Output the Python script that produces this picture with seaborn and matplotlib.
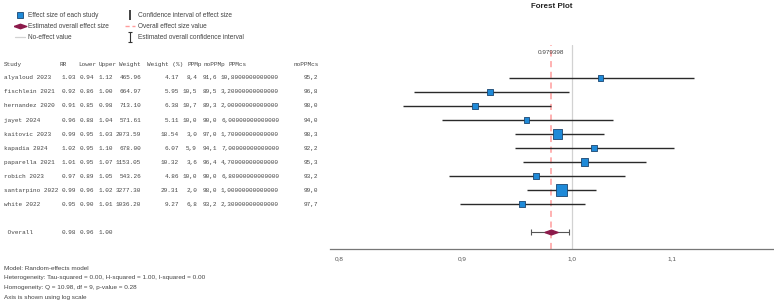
import numpy as np
import pandas as pd
import seaborn as sns
import matplotlib.pyplot as plt
from matplotlib.lines import Line2D
from matplotlib.path import Path
from matplotlib.ticker import FixedLocator, FuncFormatter, NullLocator
import matplotlib.transforms as mtransforms

# ---- data ----
studies = ["alyaloud 2023", "fischlein 2021", "hernandez 2020", "jayet 2024", "kaitovic 2023",
           "kapadia 2024", "paparella 2021", "robich 2023", "santarpino 2022", "white 2022"]
rr = [1.027, 0.924, 0.911, 0.957, 0.986, 1.021, 1.012, 0.966, 0.990, 0.953]
lower = [0.941, 0.859, 0.850, 0.883, 0.947, 0.947, 0.954, 0.889, 0.958, 0.898]
upper = [1.124, 0.997, 0.980, 1.040, 1.031, 1.102, 1.073, 1.052, 1.023, 1.012]
weight = [465.96, 664.97, 713.10, 571.61, 2073.59, 678.00, 1153.05, 543.26, 3277.30, 1036.20]
weight_pct = [4.17, 5.95, 6.38, 5.11, 18.54, 6.07, 10.32, 4.86, 29.31, 9.27]
ppmp = [8.4, 10.5, 10.7, 10.0, 3.0, 5.9, 3.6, 10.0, 2.0, 6.8]
noppmp = [91.6, 89.5, 89.3, 90.0, 97.0, 94.1, 96.4, 90.0, 98.0, 93.2]
ppmcs = [10.8, 3.2, 2.0, 6.0, 1.7, 7.0, 4.7, 6.8, 1.0, 2.3]
noppmcs = [95.2, 96.8, 98.0, 94.0, 98.3, 92.2, 95.3, 93.2, 99.0, 97.7]

overall_rr = 0.979398
overall_lower = 0.961
overall_upper = 0.997

xticks = [0.8, 0.9, 1.0, 1.1]
notes = ["Model: Random-effects model",
         "Heterogeneity: Tau-squared = 0.00, H-squared = 1.00, I-squared = 0.00",
         "Homogeneity: Q = 10.98, df = 9, p-value = 0.28",
         "Axis is shown using log scale"]

df = pd.DataFrame({"study": studies, "rr": rr, "lower": lower, "upper": upper,
                   "weight": weight, "pos": np.arange(len(studies))})
overall_pos = len(studies) + 1

BLUE = "#1f8ad8"
BLUE_EDGE = "#1b4670"
MAROON = "#8c1a4b"
PINK = "#ff9c9c"
GRAY = "#d2d2d2"
TXT = "#444444"

sns.set_style("white")
plt.rcParams["font.family"] = ["Liberation Sans", "DejaVu Sans"]

W, H = 774, 301
fig = plt.figure(figsize=(W / 100, H / 100), dpi=100)


def fx(px):
    return px / W


def fy(py):
    return 1 - py / H


ax = fig.add_axes([fx(330), fy(249), fx(444), (249 - 45) / H])

# reference lines
ax.axvline(1.0, color=GRAY, lw=0.9, zorder=1)
ax.axvline(overall_rr, color=PINK, lw=1.1, ls=(0, (4, 3)), zorder=1)

# study CIs and squares (area proportional to weight)
ax.hlines(df["pos"], df["lower"], df["upper"], color="#2a2a2a", lw=1.0, zorder=2)
sns.scatterplot(data=df, x="rr", y="pos", size="weight", sizes=(14, 64),
                size_norm=(min(weight), max(weight)), marker="s", color=BLUE,
                edgecolor=BLUE_EDGE, linewidth=0.6, legend=False, ax=ax, zorder=3)

# overall estimate
diamond = [(-1, 0), (0, 0.36), (1, 0), (0, -0.36), (-1, 0)]
ax.errorbar([overall_rr], [overall_pos],
            xerr=[[overall_rr - overall_lower], [overall_upper - overall_rr]],
            fmt="none", ecolor="#555555", elinewidth=0.8, capsize=2, capthick=0.8, zorder=2)
ax.plot([overall_rr], [overall_pos], marker=diamond, ms=9.5, color=MAROON,
        mec=MAROON, ls="none", zorder=4)
ax.text(overall_rr, -1.85, f"{overall_rr:.6f}", ha="center", va="center",
        fontsize=4.6, color=TXT)

ax.set_xscale("log")
ax.set_xlim(0.793, 1.213)
ax.set_ylim(12.214, -2.357)
ax.xaxis.set_major_locator(FixedLocator(xticks))
ax.xaxis.set_minor_locator(NullLocator())
ax.xaxis.set_major_formatter(FuncFormatter(lambda v, _: f"{v:.1f}".replace(".", ",")))
ax.xaxis.set_minor_formatter(FuncFormatter(lambda v, _: ""))
ax.tick_params(axis="x", length=0, pad=5.5, labelsize=4.6, labelcolor="#555555")
ax.set_yticks([])
ax.set_xlabel("")
ax.set_ylabel("")
for side in ["top", "right", "left"]:
    ax.spines[side].set_visible(False)
ax.spines["bottom"].set_color("#777777")
ax.spines["bottom"].set_linewidth(0.9)

fig.text(fx(552), fy(6), "Forest Plot", ha="center", va="center",
         fontsize=5.7, fontweight="bold", color="#222222")

# ---- left table ----
trans = mtransforms.blended_transform_factory(fig.transFigure, ax.transData)
mono = dict(family="Liberation Mono", fontsize=4.3, color=TXT, va="center", transform=trans)


def comma(v):
    return f"{v:.1f}".replace(".", ",")


columns = [
    ("Study", 4, 4, "left", studies),
    ("RR", 60, 62, "left", [f"{v:.2f}" for v in rr]),
    ("Lower", 78, 80, "left", [f"{v:.2f}" for v in lower]),
    ("Upper", 99, 99, "left", [f"{v:.2f}" for v in upper]),
    ("Weight", 119, 141, "right", [f"{v:.2f}" for v in weight]),
    ("Weight (%)", 147, 179, "right", [f"{v:.2f}" for v in weight_pct]),
    ("PPMp", 187, 197, "right", [comma(v) for v in ppmp]),
    ("noPPMp", 204, 203, "left", [comma(v) for v in noppmp]),
    ("PPMcs", 228, 221, "left", [f"{v:#.15g}".replace(".", ",") for v in ppmcs]),
    ("noPPMcs", 294, 304, "left", [comma(v) for v in noppmcs]),
]
header_pos = -0.93
for header, hx, dx, ha, vals in columns:
    fig.text(fx(hx), header_pos, header, ha="left", **mono)
    for i, s in enumerate(vals):
        fig.text(fx(dx), i, s, ha=ha, **mono)

overall_vals = [(" Overall", 4), (f"{0.98:.2f}", 62), (f"{overall_lower:.2f}", 80),
                (f"{overall_upper:.2f}", 99)]
for s, x in overall_vals:
    fig.text(fx(x), overall_pos, s, ha="left", **mono)

# ---- notes ----
for i, line in enumerate(notes):
    fig.text(fx(4), fy(268 + 10 * i), line, ha="left", va="center", fontsize=4.6, color=TXT)

# ---- legend ----
ci_marker = Path([(-0.35, 1), (0.35, 1), (0, 1), (0, -1), (-0.35, -1), (0.35, -1)],
                 [Path.MOVETO, Path.LINETO, Path.MOVETO, Path.LINETO, Path.MOVETO, Path.LINETO])
handles = [
    Line2D([], [], marker="s", ls="none", ms=4.5, mfc=BLUE, mec=BLUE_EDGE, mew=0.6),
    Line2D([], [], marker=diamond, ls="none", ms=9, mfc=MAROON, mec=MAROON),
    Line2D([], [], color=GRAY, lw=0.9),
    Line2D([], [], marker="|", ls="none", ms=7, mew=1.3, color="#333333"),
    Line2D([], [], color=PINK, lw=1.0, ls=(0, (3, 2))),
    Line2D([], [], marker=ci_marker, ls="none", ms=7, mew=0.8, color="#333333", mfc="none"),
]
labels = ["Effect size of each study", "Estimated overall effect size", "No-effect value",
          "Confidence interval of effect size", "Overall effect size value",
          "Estimated overall confidence interval"]
fig.legend(handles, labels, loc="upper left", bbox_to_anchor=(fx(15), fy(12)), ncol=2,
           frameon=False, fontsize=4.7, handlelength=1.6, handletextpad=0.4,
           columnspacing=2.4, labelspacing=0.6, borderaxespad=0, borderpad=0,
           labelcolor=TXT)

fig.savefig("out.png", dpi=100)
